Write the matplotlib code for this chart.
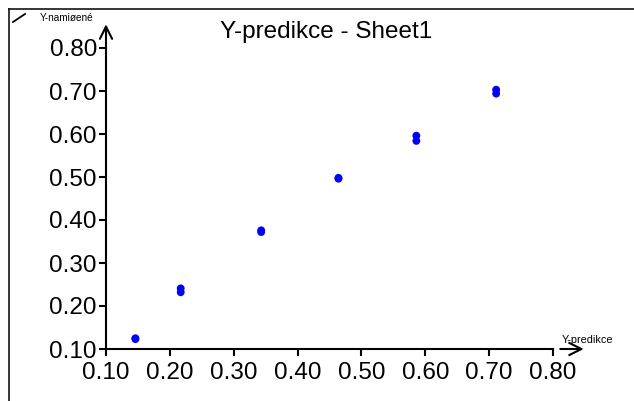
import matplotlib
matplotlib.use("Agg")
from matplotlib import pyplot as plt
from matplotlib.lines import Line2D

matplotlib.rcParams['font.family'] = ['Liberation Sans', 'DejaVu Sans']

y_pred = [0.146, 0.146, 0.217, 0.217, 0.343, 0.343, 0.464, 0.464,
          0.586, 0.586, 0.711, 0.711]
y_meas = [0.125, 0.123, 0.241, 0.232, 0.376, 0.372, 0.498, 0.496,
          0.596, 0.584, 0.703, 0.694]
ticks = [0.10, 0.20, 0.30, 0.40, 0.50, 0.60, 0.70, 0.80]
tick_labels = ["%.2f" % t for t in ticks]

W, H = 634, 401
fig = plt.figure(figsize=(W / 100, H / 100), dpi=100)
ax = fig.add_axes([106 / W, 52 / H, 447 / W, 301 / H])

ax.scatter(y_pred, y_meas, s=32, color="#0000ff", edgecolors="none", zorder=3, clip_on=False)

ax.set_xlim(0.1, 0.8)
ax.set_ylim(0.1, 0.8)
ax.set_xticks(ticks)
ax.set_xticklabels(tick_labels)
ax.set_yticks(ticks)
ax.set_yticklabels(tick_labels)
ax.tick_params(direction="out", length=5, width=1.5, labelsize=17.5)
ax.tick_params(axis="x", pad=4.5)
ax.tick_params(axis="y", pad=1.5)
for s in ["top", "right"]:
    ax.spines[s].set_visible(False)
ax.spines["left"].set_linewidth(1.5)
ax.spines["bottom"].set_linewidth(1.5)

# axis arrows
ax.annotate("", xy=(0, 1.088), xytext=(0, 0.99), xycoords="axes fraction",
            arrowprops=dict(arrowstyle="->", lw=1.5, color="black", mutation_scale=22))
ax.annotate("", xy=(1.075, 0), xytext=(1.01, 0), xycoords="axes fraction",
            arrowprops=dict(arrowstyle="->", lw=1.5, color="black", mutation_scale=22))

fig.text(562 / W, 1 - 340 / H, "Y-predikce", fontsize=7.8, ha="left", va="center")
fig.text(40 / W, 1 - 18 / H, "Y-namiøené", fontsize=7.2, ha="left", va="center")
fig.text(326 / W, 1 - 32 / H, "Y-predikce - Sheet1", fontsize=17.5, ha="center", va="center")

# frame lines and corner mark
fig.add_artist(Line2D([9 / W, 1], [1 - 9 / H, 1 - 9 / H], color="black", lw=1.1))
fig.add_artist(Line2D([9 / W, 9 / W], [0, 1 - 9 / H], color="black", lw=1.1))
fig.add_artist(Line2D([13 / W, 25 / W], [1 - 22 / H, 1 - 14 / H], color="black", lw=1.3))

plt.savefig("out.png", dpi=100)
